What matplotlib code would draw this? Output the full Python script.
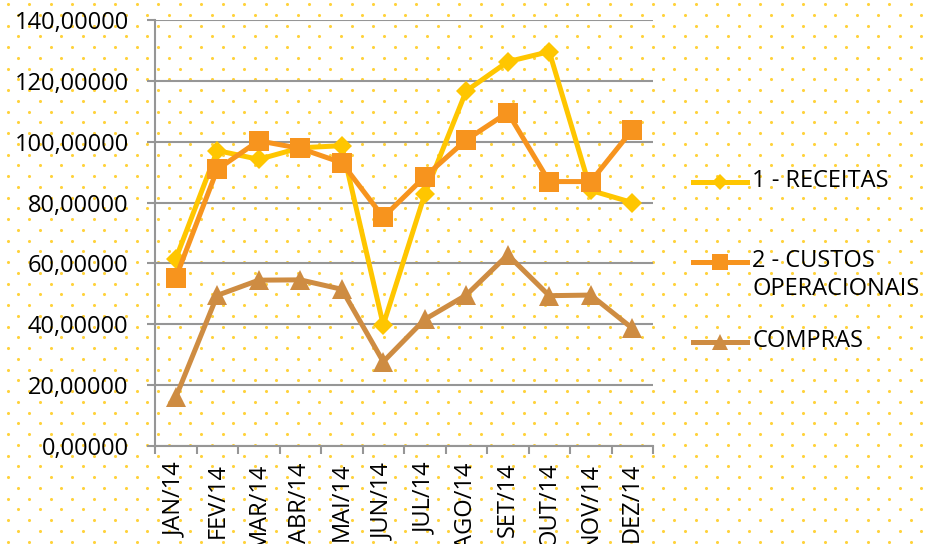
import matplotlib
matplotlib.use("Agg")
import matplotlib.pyplot as plt
import numpy as np
from matplotlib.lines import Line2D
from matplotlib.ticker import FuncFormatter, MultipleLocator

plt.rcParams['font.family'] = ['Open Sans', 'DejaVu Sans']

meses = ['JAN/14', 'FEV/14', 'MAR/14', 'ABR/14', 'MAI/14', 'JUN/14',
         'JUL/14', 'AGO/14', 'SET/14', 'OUT/14', 'NOV/14', 'DEZ/14']
receitas = [61.5, 97.1, 94.2, 98.0, 98.7, 39.8, 82.7, 116.7, 126.3, 129.6, 84.0, 80.0]
custos = [55.3, 90.9, 100.3, 97.8, 93.1, 75.2, 88.5, 100.6, 109.6, 86.9, 86.9, 103.9]
compras = [16.0, 49.5, 54.5, 54.6, 51.5, 27.7, 41.6, 49.6, 62.8, 49.4, 49.6, 38.7]

nomes = ['1 - RECEITAS', '2 - CUSTOS\nOPERACIONAIS', 'COMPRAS']
cores = ['#FFC600', '#F7941E', '#CE8C42']
marcadores = ['D', 's', '^']
tam = [10.2, 14.4, 13.7]

W, H = 930, 544
fig = plt.figure(figsize=(W / 100, H / 100), dpi=100)
fig.patch.set_facecolor('white')

# fundo pontilhado
bg = fig.add_axes([0, 0, 1, 1], zorder=-1)
bg.set_xlim(0, W)
bg.set_ylim(H, 0)
bg.axis('off')
px, py = [], []
for i, y in enumerate(np.arange(4, H + 10, 10.75)):
    x0 = 7.5 if i % 2 == 0 else 18.25
    for x in np.arange(x0, W + 10, 21.5):
        px.append(x)
        py.append(y)
bg.scatter(px, py, s=5, color='#FFD23C', linewidths=0)

ax = fig.add_axes([155 / W, 1 - 446 / H, (653 - 155) / W, (446 - 20) / H])
ax.patch.set_alpha(0)

x = np.arange(len(meses))
for serie, cor, m, ms in zip([receitas, custos, compras], cores, marcadores, tam):
    ax.plot(x, serie, color=cor, lw=3.6, marker=m, markersize=ms,
            markeredgewidth=0, clip_on=False)

ax.set_xlim(-0.5, len(meses) - 0.5)
ax.set_ylim(0, 140)
ax.yaxis.set_major_locator(MultipleLocator(20))
ax.yaxis.set_major_formatter(FuncFormatter(lambda v, p: f'{v:.5f}'.replace('.', ',')))
ax.grid(axis='y', color='#969696', lw=1.5)
ax.set_axisbelow(True)

ax.set_xticks(x)
ax.set_xticklabels(meses, rotation=90)
ax.set_xticks(np.arange(-0.5, len(meses)), minor=True)
ax.tick_params(axis='x', which='major', length=0, pad=12, labelsize=17)
ax.tick_params(axis='x', which='minor', length=6, width=1.5, color='#969696')
ax.tick_params(axis='y', length=6, width=1.5, color='#969696', pad=13, labelsize=17)

for s in ['top', 'right']:
    ax.spines[s].set_visible(False)
for s in ['left', 'bottom']:
    ax.spines[s].set_color('#969696')
    ax.spines[s].set_linewidth(1.5)

# legenda (a marca fica alinhada com a primeira linha do texto)
leg_y = [182, 262, 342]
leg_ms = [8.5, 12, 12]
for nome, cor, m, ms, yy in zip(nomes, cores, marcadores, leg_ms, leg_y):
    yf = 1 - yy / H
    fig.add_artist(Line2D([693 / W, 747 / W], [yf, yf], color=cor, lw=3.6))
    fig.add_artist(Line2D([720 / W], [yf], color=cor, marker=m, markersize=ms,
                          markeredgewidth=0))
    fig.text(752 / W, 1 - (yy - 13) / H, nome, fontsize=17, va='top',
             linespacing=1.2)

fig.savefig('out.png', dpi=100)
